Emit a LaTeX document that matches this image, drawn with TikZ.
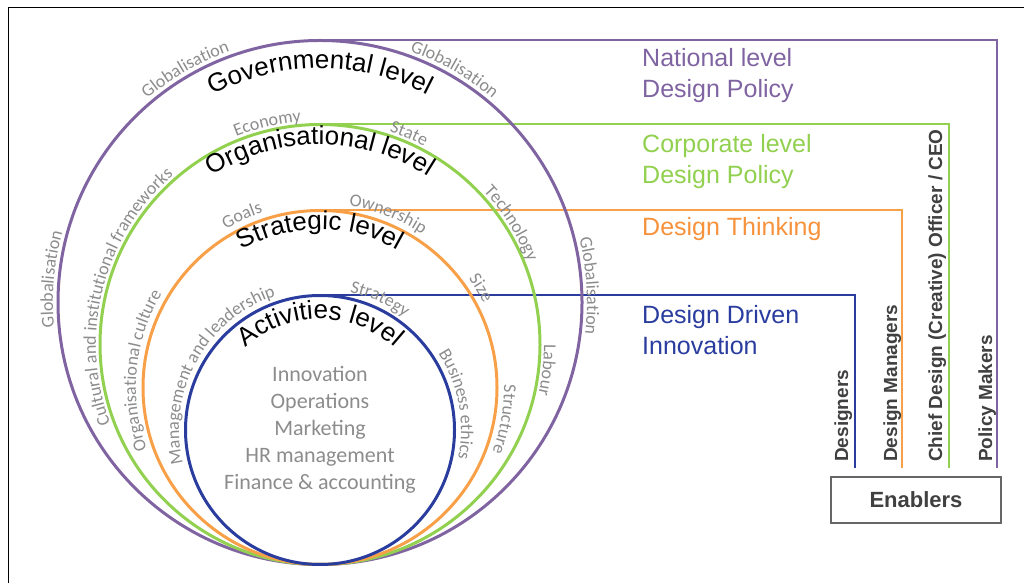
\documentclass[tikz,border=0pt]{standalone}
\usepackage{fontspec}
\setmainfont{Liberation Sans}
\newfontfamily\calibrifont{Carlito}
\usetikzlibrary{decorations.text}
\definecolor{govpurple}{HTML}{8064A2}
\definecolor{orggreen}{HTML}{92D050}
\definecolor{strorange}{HTML}{F7A048}
\definecolor{thinkorange}{HTML}{F7923C}
\definecolor{actblue}{HTML}{2A3D9F}
\definecolor{labelgray}{HTML}{8C8C8C}
\definecolor{enablergray}{HTML}{404040}
\tikzset{
  ring/.style={line width=3pt},
  link/.style={line width=2pt},
  levelname/.style={decorate, decoration={text along path, text align=center,
      text={|\fontsize{26}{26}\selectfont|#1}}},
  factor/.style={decorate, decoration={text along path, text align=center,
      text color=labelgray, text={|\calibrifont\fontsize{18}{18}\selectfont|#1}}},
  policy/.style={anchor=north west, align=left, inner sep=0pt, font=\fontsize{25}{31}\selectfont},
  enabler/.style={rotate=90, anchor=base west, inner sep=0pt, text=enablergray,
      font=\bfseries\fontsize{19}{19}\selectfont},
  activity/.style={anchor=base, inner sep=0pt, text=labelgray, font=\calibrifont\fontsize{22}{22}\selectfont}
}
\begin{document}
\begin{tikzpicture}[x=1pt,y=1pt]
\useasboundingbox (0,0) rectangle (1024,583);
\draw[line width=1pt] (8,0) -- (8,575) -- (1024,575);

   \coordinate (gov) at (320,280.5);
   \coordinate (org) at (320,238.5);
   \coordinate (str) at (320,195.5);
   \coordinate (act) at (320,153);

   \coordinate (govtop) at (320,542.5);
   \coordinate (orgtop) at (320,458.5);
   \coordinate (strtop) at (320,372.5);
   \coordinate (acttop) at (320,287.5);
   \coordinate (govcorner) at (997,542.5);
   \coordinate (orgcorner) at (949,458.5);
   \coordinate (strcorner) at (902,372.5);
   \coordinate (actcorner) at (855,287.5);
   \coordinate (govend) at (997,115);
   \coordinate (orgend) at (949,115);
   \coordinate (strend) at (902,115);
   \coordinate (actend) at (855,115);

    \draw[link, govpurple] (govtop) -- (govcorner) -- (govend);
    \draw[link, orggreen] (orgtop) -- (orgcorner) -- (orgend);
    \draw[link, strorange] (strtop) -- (strcorner) -- (strend);
    \draw[link, actblue] (acttop) -- (actcorner) -- (actend);

    \draw[ring, govpurple] (gov) circle[radius=262];
    \draw[ring, orggreen] (org) circle[radius=220];
    \draw[ring, strorange] (str) circle[radius=177];
    \draw[ring, actblue] (act) circle[radius=134.5];

    % level names
    \path[levelname={Governmental level}] ([shift={(160:234)}]gov) arc[start angle=160, end angle=20, radius=234];
    \path[levelname={Organisational level}] ([shift={(160:200)}]org) arc[start angle=160, end angle=20, radius=200];
    \path[levelname={Strategic level}] ([shift={(160:158)}]str) arc[start angle=160, end angle=20, radius=158];
    \path[levelname={Activities level}] ([shift={(160:111)}]act) arc[start angle=160, end angle=20, radius=111];

    % factors
    \path[factor={Globalisation}] ([shift={(170:267)}]gov) arc[start angle=170, end angle=70, radius=267];
    \path[factor={Globalisation}] ([shift={(110:267)}]gov) arc[start angle=110, end angle=10, radius=267];
    \path[factor={Globalisation}] ([shift={(53.5:267)}]gov) arc[start angle=53.5, end angle=-46.5, radius=267];
    \path[factor={Globalisation}] ([shift={(225:267)}]gov) arc[start angle=225, end angle=125, radius=267];

    \path[factor={Economy}] ([shift={(153.4:224)}]org) arc[start angle=153.4, end angle=53.4, radius=224];
    \path[factor={State}] ([shift={(117.1:224)}]org) arc[start angle=117.1, end angle=17.1, radius=224];
    \path[factor={Technology}] ([shift={(82.4:224)}]org) arc[start angle=82.4, end angle=-17.6, radius=224];
    \path[factor={Labour}] ([shift={(43.6:224)}]org) arc[start angle=43.6, end angle=-56.4, radius=224];
    \path[factor={Cultural and institutional frameworks}] ([shift={(215.7:224)}]org) arc[start angle=215.7, end angle=115.7, radius=224];

    \path[factor={Goals}] ([shift={(164.4:184)}]str) arc[start angle=164.4, end angle=64.4, radius=184];
    \path[factor={Ownership}] ([shift={(118.6:184)}]str) arc[start angle=118.6, end angle=18.6, radius=184];
    \path[factor={Size}] ([shift={(81.7:184)}]str) arc[start angle=81.7, end angle=-18.3, radius=184];
    \path[factor={Structure}] ([shift={(40.2:184)}]str) arc[start angle=40.2, end angle=-59.8, radius=184];
    \path[factor={Organisational culture}] ([shift={(224.5:184)}]str) arc[start angle=224.5, end angle=124.5, radius=184];

    \path[factor={Management and leadership}] ([shift={(201:141)}]act) arc[start angle=201, end angle=101, radius=141];
    \path[factor={Strategy}] ([shift={(115.4:141)}]act) arc[start angle=115.4, end angle=15.4, radius=141];
    \path[factor={Business ethics}] ([shift={(60.6:141)}]act) arc[start angle=60.6, end angle=-39.4, radius=141];

    \foreach \task [count=\i] in {Innovation, Operations, Marketing, HR management, Finance \& accounting}
      \node[activity] (task\i) at (320,{228-27*\i}) {\task};

    \node[policy, text=govpurple] (national) at (642,535) {National level\\Design Policy};
    \node[policy, text=orggreen] (corporate) at (642,449) {Corporate level\\Design Policy};
    \node[policy, text=thinkorange] (thinking) at (642,366) {Design Thinking};
    \node[policy, text=actblue] (driven) at (642,278) {Design Driven\\Innovation};

    \node[enabler] (designers) at (848,121) {Designers};
    \node[enabler] (managers) at (897,121) {Design Managers};
    \node[enabler] (chief) at (942,121) {Chief Design (Creative) Officer / CEO};
    \node[enabler] (makers) at (992,121) {Policy Makers};
    \node[draw=black!60, line width=1.2pt, minimum width=170pt, minimum height=46pt, text=enablergray,
          font=\bfseries\fontsize{22}{22}\selectfont] (enablers) at (916,83) {Enablers};

\end{tikzpicture}
\end{document}
